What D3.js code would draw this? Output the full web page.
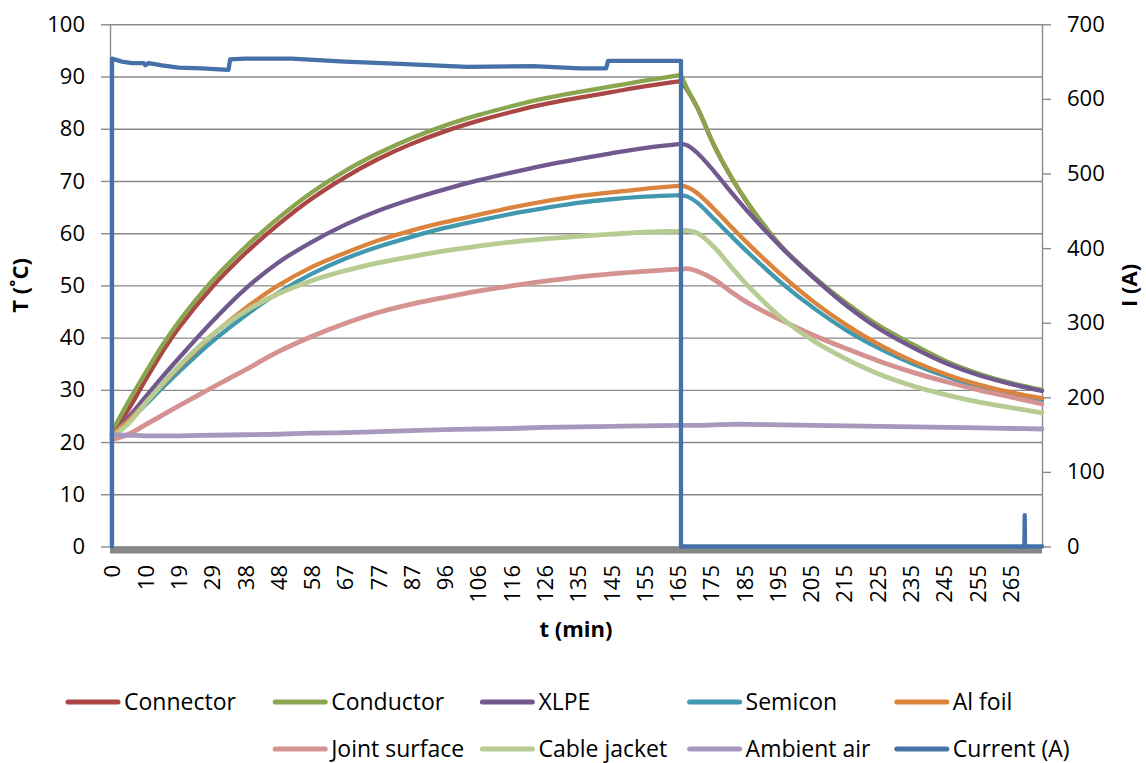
<!DOCTYPE html>
<html><head><meta charset="utf-8">
<script src="https://cdn.jsdelivr.net/npm/d3@7"></script>
<style>
body{margin:0;background:#fff;}
svg{display:block;font-family:"Open Sans","Noto Sans",sans-serif;}
</style></head><body>
<svg id="chart" width="1146" height="763"></svg>
<script>
// Category-axis tick labels (minutes)
const xTickLabels = [0,10,19,29,38,48,58,67,77,87,96,106,116,126,135,145,155,165,175,185,195,205,215,225,235,245,255,265];
// Sample positions, in category-label units (heating up to 17.1, then cooling)
const samplePos = [0,0.5,1,1.5,2,3,4,5,6,7,8,9,10,11,12,13,14,15,16,17.1,
                   17.3,17.6,18.1,18.6,19.1,20.1,21.1,22.1,23.1,24.1,25.1,26.1,27.1,27.95];

const connector   = [21.5,26.3,31.8,37.1,41.8,49.6,56.1,61.7,66.6,70.7,74.2,77.1,79.5,81.5,83.2,84.7,85.9,87.0,88.1,89.1,
                     87.3,83.9,76.7,70.8,65.8,57.5,51.5,46.4,42.0,38.5,35.3,32.9,31.1,29.9];
const conductor   = [22.0,27.8,33.2,38.4,43.0,50.8,57.3,62.9,67.8,71.9,75.3,78.2,80.6,82.6,84.3,85.8,87.0,88.1,89.2,90.3,
                     87.5,84.0,76.8,70.9,65.9,57.6,51.6,46.5,42.1,38.6,35.4,33.0,31.2,30.0];
const xlpe        = [21.5,24.8,28.6,32.4,36.0,43.0,49.3,54.4,58.3,61.6,64.3,66.5,68.4,70.1,71.6,73.0,74.2,75.3,76.3,77.1,
                     76.8,75.3,71.8,67.9,64.2,57.4,51.4,46.0,41.5,38.0,35.0,32.7,31.0,29.8];
const semicon     = [21.5,24.0,27.1,30.3,33.4,39.2,44.2,48.6,52.2,55.1,57.4,59.3,61.0,62.4,63.7,64.8,65.8,66.5,67.0,67.3,
                     67.0,65.8,62.7,59.5,56.4,50.6,45.6,41.3,37.8,34.9,32.5,30.5,29.0,28.0];
const alFoil      = [21.5,24.2,27.5,30.9,34.2,40.4,45.6,50.0,53.5,56.2,58.6,60.5,62.1,63.5,64.9,66.1,67.1,67.8,68.5,69.1,
                     68.8,67.6,64.6,61.3,58.1,52.1,46.8,42.3,38.5,35.4,32.9,30.9,29.4,28.4];
const jointSurface= [20.5,21.5,23.3,25.1,26.9,30.4,33.8,37.3,40.2,42.7,44.8,46.4,47.7,48.9,49.9,50.8,51.6,52.2,52.7,53.1,
                     53.2,52.7,51.1,48.8,46.7,43.4,40.4,37.8,35.4,33.3,31.5,29.9,28.5,27.3];
const cableJacket = [21.0,23.6,27.4,31.0,34.5,40.5,45.0,48.4,50.9,52.8,54.3,55.5,56.6,57.5,58.3,58.9,59.4,59.8,60.2,60.4,
                     60.5,60.0,57.3,53.6,50.0,43.9,39.3,35.8,32.9,30.7,29.0,27.6,26.5,25.6];
const ambientAir  = [21.4,21.3,21.2,21.2,21.2,21.3,21.4,21.5,21.7,21.8,22.0,22.2,22.4,22.5,22.6,22.8,22.9,23.0,23.1,23.2,
                     23.2,23.2,23.3,23.4,23.4,23.3,23.2,23.1,23.0,22.9,22.8,22.7,22.6,22.5];

// Current (A), secondary axis
const currentPos  = [0,0,0.3,0.6,0.95,1.0,1.1,1.5,2.0,2.7,3.5,3.55,4.0,5.4,7.0,8.66,10.67,12.66,14.07,14.85,14.91,17.1,17.1,27.42,27.43,27.44,27.95];
const currentVals = [0,654,650,648,648,645,648,645,642,641,639,653,654,654,650,647,643,644,641,641,651,651,0,0,42,0,0];

const seriesNames  = ["Connector","Conductor","XLPE","Semicon","Al foil","Joint surface","Cable jacket","Ambient air","Current (A)"];
const seriesColors = ["#AA4643","#89A54E","#71588F","#4198AF","#DB843D","#D49291","#B7CC93","#A798BE","#4571A8"];
const tempSeries = [connector,conductor,xlpe,semicon,alFoil,jointSurface,cableJacket,ambientAir];

const leftTicks = [0,10,20,30,40,50,60,70,80,90,100];
const rightTicks = [0,100,200,300,400,500,600,700];

const svg = d3.select("#chart");
const plot = {left:112, right:1042, top:24.3, bottom:546.5, axisX:110};
const fontSize = 22;
const gridColor = "#8A8A8A";

const x = d3.scaleLinear().domain([0, 27.95]).range([plot.left, plot.right]);
const yL = d3.scaleLinear().domain([0,100]).range([plot.bottom, plot.top]);
const yR = d3.scaleLinear().domain([0,700]).range([plot.bottom, plot.top]);

// gridlines
const grid = svg.append("g").attr("transform",`translate(${plot.axisX},0)`)
  .call(d3.axisLeft(yL).tickValues(leftTicks).tickSize(-(plot.right-plot.axisX)).tickFormat(""));
grid.select(".domain").remove();
grid.selectAll("line").attr("stroke",gridColor).attr("stroke-width",1.4);

// left axis
const ax = svg.append("g").attr("transform",`translate(${plot.axisX},0)`)
  .call(d3.axisLeft(yL).tickValues(leftTicks).tickSize(9).tickSizeOuter(0).tickPadding(16));
ax.select(".domain").attr("stroke",gridColor).attr("stroke-width",1.4);
ax.selectAll("line").attr("stroke",gridColor).attr("stroke-width",1.4);
ax.selectAll("text").attr("font-size",fontSize).attr("fill","#000").attr("font-family","Open Sans");

// right axis
const ar = svg.append("g").attr("transform",`translate(${plot.right},0)`)
  .call(d3.axisRight(yR).tickValues(rightTicks).tickSize(9).tickSizeOuter(0).tickPadding(16));
ar.select(".domain").attr("stroke",gridColor).attr("stroke-width",1.4);
ar.selectAll("line").attr("stroke",gridColor).attr("stroke-width",1.4);
ar.selectAll("text").attr("font-size",fontSize).attr("fill","#000").attr("font-family","Open Sans");

// bottom (category) axis
const band = 7;
const ab = svg.append("g").attr("transform",`translate(0,${plot.bottom+band/2})`)
  .call(d3.axisBottom(x).tickValues(d3.range(xTickLabels.length)).tickFormat(i=>xTickLabels[i]).tickSize(0).tickSizeOuter(0));
ab.select(".domain").attr("d",`M${plot.axisX},0H${plot.right}`).attr("stroke","#878787").attr("stroke-width",band);
ab.selectAll("text")
  .attr("transform","rotate(-90)")
  .attr("x",-15).attr("y",0).attr("dy","0.36em")
  .attr("text-anchor","end")
  .attr("font-size",fontSize).attr("fill","#000").attr("font-family","Open Sans");

// temperature lines (heating and cooling halves joined at the switch-off point)
const lineL = d3.line().x(d=>x(d[0])).y(d=>yL(d[1])).curve(d3.curveCatmullRom.alpha(0.5));
const peakI = samplePos.indexOf(17.1);
tempSeries.forEach((vals,i)=>{
  const pts = samplePos.map((p,j)=>[p,vals[j]]);
  const d = lineL(pts.slice(0,peakI+1)) + lineL(pts.slice(peakI)).replace(/^M/,"L");
  svg.append("path").attr("d",d).attr("fill","none")
    .attr("stroke",seriesColors[i]).attr("stroke-width", i>=5 ? 4.8 : 4.3)
    .attr("stroke-linejoin","round").attr("stroke-linecap","round");
});

// current line
const lineR = d3.line().x(d=>x(d[0])).y(d=>yR(d[1]));
svg.append("path").attr("d",lineR(currentPos.map((p,j)=>[p,currentVals[j]])))
  .attr("fill","none").attr("stroke",seriesColors[8]).attr("stroke-width",4.3)
  .attr("stroke-linejoin","round").attr("stroke-linecap","round");

// axis titles
svg.append("text").attr("transform",`translate(28,${(plot.top+plot.bottom)/2}) rotate(-90)`)
  .attr("text-anchor","middle").attr("font-weight","bold").attr("font-size",fontSize).text("T (˚C)");
svg.append("text").attr("transform",`translate(1137,${(plot.top+plot.bottom)/2}) rotate(-90)`)
  .attr("text-anchor","middle").attr("font-weight","bold").attr("font-size",fontSize).text("I (A)");
svg.append("text").attr("x",(plot.axisX+plot.right)/2).attr("y",637)
  .attr("text-anchor","middle").attr("font-weight","bold").attr("font-size",fontSize).text("t (min)");

// legend
const legX0 = 66, legColW = 207.2, legRows = [702, 749];
const legendSlots = [[0,0],[0,1],[0,2],[0,3],[0,4],[1,1],[1,2],[1,3],[1,4]];
seriesNames.forEach((name,i)=>{
  const [r,c] = legendSlots[i];
  const lx = legX0 + c*legColW, ly = legRows[r];
  const g = svg.append("g");
  g.append("line").attr("x1",lx+2).attr("x2",lx+52).attr("y1",ly).attr("y2",ly)
    .attr("stroke",seriesColors[i]).attr("stroke-width",5).attr("stroke-linecap","round");
  g.append("text").attr("x",lx+58).attr("y",ly).attr("dy","0.35em")
    .attr("font-size",23).text(name);
});
</script>
</body></html>
